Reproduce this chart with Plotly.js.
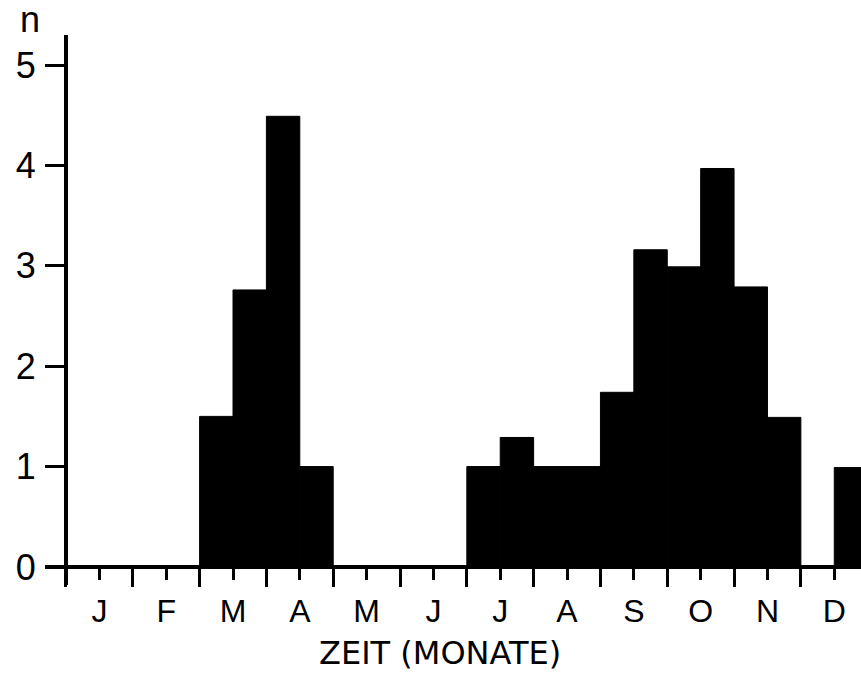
<!DOCTYPE html>
<html>
<head>
<meta charset="utf-8">
<script src="https://cdn.plot.ly/plotly-3.0.1.min.js"></script>
<style>html,body{margin:0;padding:0;background:#fff}#chart{width:861px;height:674px}</style>
</head>
<body>
<div id="chart"></div>
<script>
// half-month bins, January (1st half) to December (2nd half)
const halfMonths = ["Jan I","Jan II","Feb I","Feb II","Mär I","Mär II","Apr I","Apr II","Mai I","Mai II","Jun I","Jun II",
                    "Jul I","Jul II","Aug I","Aug II","Sep I","Sep II","Okt I","Okt II","Nov I","Nov II","Dez I","Dez II"];
const counts = [0,0,0,0,1.5,2.76,4.49,1.0,0,0,0,0,
                1.0,1.29,1.0,1.0,1.74,3.16,2.99,3.97,2.79,1.49,0,0.99];
const monthLabels = ["J","F","M","A","M","J","J","A","S","O","N","D"];
const yTicks = [0,1,2,3,4,5];

const xPos = halfMonths.map((_, i) => i * 0.5 + 0.25);
const monthCenters = monthLabels.map((_, i) => i + 0.5);
const monthBounds = Array.from({length: 13}, (_, i) => i);

const trace = {
  type: 'bar',
  x: xPos,
  y: counts,
  width: 0.5,
  text: halfMonths,
  hoverinfo: 'text+y',
  marker: {color: '#000', line: {width: 1, color: '#000'}},
  textposition: 'none'
};

const layout = {
  width: 861, height: 674,
  margin: {l: 45, r: 0, t: 35, b: 89},
  paper_bgcolor: '#fff', plot_bgcolor: '#fff',
  showlegend: false,
  font: {family: 'Liberation Sans, Arial, sans-serif', color: '#000'},
  xaxis: {
    range: [-0.314, 11.9],
    anchor: 'free', position: 0.0327,
    showline: true, linewidth: 4, linecolor: '#000',
    showgrid: false, zeroline: false,
    tickmode: 'array', tickvals: monthCenters, ticktext: monthLabels,
    ticks: 'outside', ticklen: 11, tickwidth: 3, tickcolor: '#000',
    ticklabelstandoff: 4,
    tickfont: {size: 32, family: 'Liberation Sans, Arial, sans-serif'},
    minor: {tickvals: monthBounds, ticks: 'outside', ticklen: 18, tickwidth: 3, tickcolor: '#000', showgrid: false}
  },
  yaxis: {
    range: [-0.18, 5.3],
    anchor: 'free', position: 0.0257,
    showline: true, linewidth: 4, linecolor: '#000',
    showgrid: false, zeroline: false,
    tickmode: 'array', tickvals: yTicks,
    ticks: 'outside', ticklen: 19, tickwidth: 3, tickcolor: '#000',
    ticklabelstandoff: 2,
    tickfont: {size: 36, family: 'Liberation Sans, Arial, sans-serif'}
  },
  annotations: [
    {text: 'ZEIT (MONATE)', xref: 'paper', yref: 'paper', x: (440 - 45) / 816, y: (585 - 653) / 550,
     xanchor: 'center', yanchor: 'middle', showarrow: false,
     font: {size: 32, family: 'DejaVu Sans, sans-serif', color: '#000'}},
    {text: 'n', xref: 'paper', yref: 'paper', x: (30 - 45) / 816, y: (585 - 20) / 550,
     xanchor: 'center', yanchor: 'middle', showarrow: false,
     font: {size: 36, family: 'Liberation Sans, Arial, sans-serif', color: '#000'}}
  ]
};

Plotly.newPlot('chart', [trace], layout, {displayModeBar: false, staticPlot: true});
</script>
</body>
</html>
